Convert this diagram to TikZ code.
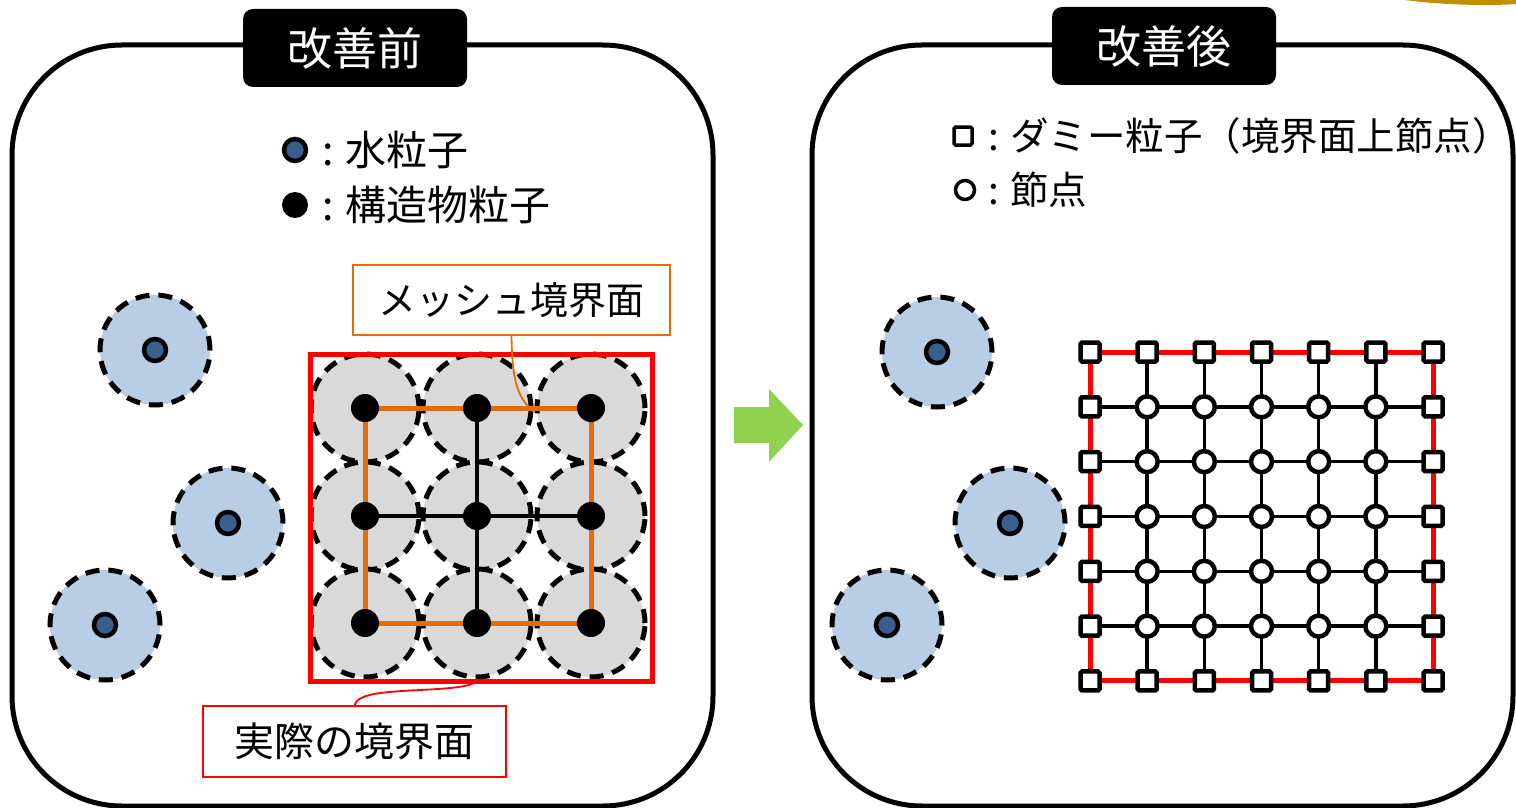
\documentclass[tikz,border=0pt]{standalone}
\usepackage{fontspec}
\setmainfont{Noto Sans CJK JP}
\usetikzlibrary{calc}
\definecolor{waterfill}{HTML}{B9CDE5}
\definecolor{waterdotc}{HTML}{3A5F8F}
\definecolor{structfill}{HTML}{D9D9D9}
\definecolor{meshorange}{HTML}{E46C0A}
\definecolor{arrowgreen}{HTML}{92D050}
\definecolor{goldc}{HTML}{C09000}
\begin{document}
\begin{tikzpicture}[x=1pt,y=-1pt,
  panel/.style={draw, line width=5pt, rounded corners=110pt},
  titlebox/.style={fill=black, text=white, rounded corners=10pt, minimum width=224pt, minimum height=78pt, inner sep=0pt, font=\fontsize{45}{50}\selectfont},
  water/.style={circle, draw, dash pattern=on 14pt off 9pt, line width=5pt, fill=waterfill, minimum size=110pt, inner sep=0pt},
  wdot/.style={circle, draw, line width=4.5pt, fill=waterdotc, minimum size=22pt, inner sep=0pt},
  structure/.style={circle, draw, dash pattern=on 14pt off 9pt, line width=5pt, fill=structfill, minimum size=108pt, inner sep=0pt},
  sdot/.style={circle, fill=black, minimum size=28pt, inner sep=0pt},
  legtext/.style={anchor=west, inner sep=0pt, font=\fontsize{41}{46}\selectfont},
  rlegtext/.style={anchor=west, inner sep=0pt, font=\fontsize{38.5}{44}\selectfont},
  callout/.style={fill=white, line width=1.8pt, minimum height=70pt, inner sep=0pt, font=\fontsize{38}{44}\selectfont},
  sq/.style={rectangle, draw, line width=4.5pt, fill=white, minimum size=19pt, inner sep=0pt, rounded corners=1.5pt},
  nd/.style={circle, draw, line width=4.5pt, fill=white, minimum size=21pt, inner sep=0pt},
  meshline/.style={meshorange, line width=5pt},
  innerline/.style={black, line width=3.5pt},
  redline/.style={red, line width=5pt},
]
\useasboundingbox (0,0) rectangle (1516,808);

% gold arc at top right
\fill[goldc] (1405,0) .. controls (1440,5) and (1490,6) .. (1516,4) -- (1516,0) -- cycle;

% panels
\draw[panel] (12,45) rectangle (713,806);
\draw[panel] (812,45) rectangle (1513,806);

% titles
\node[titlebox] (t1) at (355,48) {改善前};
\node[titlebox] (t2) at (1164,46) {改善後};

% left legend
\node[wdot] (lw) at (295,150) {};
\node[legtext] (lwt) at (322,150) {: 水粒子};
\node[sdot, minimum size=26pt] (ls) at (295,205) {};
\node[legtext] (lst) at (322,205) {: 構造物粒子};

% right legend
\node[sq, minimum size=18pt, line width=3.5pt] (rsq) at (963,136) {};
\node[rlegtext] (rsqt) at (988,136) {: ダミー粒子（境界面上節点）};
\node[nd, minimum size=19pt, line width=3.5pt] (rnd) at (965,190) {};
\node[rlegtext] (rndt) at (988,190) {: 節点};

% water particles left
\node[water] (wa1) at (155,350) {};
\node[water] (wa2) at (228,523) {};
\node[water] (wa3) at (105,625) {};
\node[wdot] at (wa1) {};
\node[wdot] at (wa2) {};
\node[wdot] at (wa3) {};

% water particles right
\node[water] (wb1) at (937,352) {};
\node[water] (wb2) at (1010,523) {};
\node[water] (wb3) at (887,625) {};
\node[wdot] at (wb1) {};
\node[wdot] at (wb2) {};
\node[wdot] at (wb3) {};

% structure particles
\foreach \i/\x in {1/365,2/477,3/591}{
  \foreach \j/\y in {1/408,2/516,3/623}{
    \node[structure] (sc-\i-\j) at (\x,\y) {};
  }
}
% red actual boundary
\draw[redline] (310,354) rectangle (652,681);
% inner black lines
\draw[innerline] (sc-2-1.center) -- (sc-2-3.center);
\draw[innerline] (sc-1-2.center) -- (sc-3-2.center);
% orange mesh
\draw[meshline] (sc-1-1.center) -- (sc-2-1.center) -- (sc-3-1.center) -- (sc-3-2.center) -- (sc-3-3.center) -- (sc-2-3.center) -- (sc-1-3.center) -- (sc-1-2.center) -- cycle;
% black dots
\foreach \i in {1,2,3}{
  \foreach \j in {1,2,3}{
    \node[sdot] (sd-\i-\j) at (sc-\i-\j) {};
  }
}

% callouts
\node[callout, draw=meshorange, minimum width=317pt] (mesh) at (511.5,300) {メッシュ境界面};
\coordinate (meshend) at (530,408);
\draw[meshorange, line width=1.8pt] (mesh.south) .. controls (512,375) and (516,395) .. (meshend);

\node[callout, draw=red, minimum width=303pt, minimum height=71pt, font=\fontsize{40}{46}\selectfont] (real) at (354.5,741.5) {実際の境界面};
\coordinate (realend) at (478,680);
\draw[red, line width=1.8pt] (real.north) .. controls (358,694) and (380,692) .. (420,690) .. controls (460,688) and (472,686) .. (realend);

% green arrow
\fill[arrowgreen] (734,407) -- (769,407) -- (769,389) -- (803,425) -- (769,462) -- (769,443) -- (734,443) -- cycle;

% right grid
\foreach \c in {1,...,7}{
  \foreach \r in {1,...,7}{
    \coordinate (p-\c-\r) at ({1090+(\c-1)*57.17},{352+(\r-1)*54.83});
  }
}
\foreach \k in {2,...,6}{
  \draw[innerline] (p-1-\k) -- (p-7-\k);
  \draw[innerline] (p-\k-1) -- (p-\k-7);
}
\draw[redline] (p-1-1) rectangle (p-7-7);
\foreach \c in {1,...,7}{
  \node[sq] (g-\c-1) at (p-\c-1) {};
  \node[sq] (g-\c-7) at (p-\c-7) {};
}
\foreach \r in {2,...,6}{
  \node[sq] (g-1-\r) at (p-1-\r) {};
  \node[sq] (g-7-\r) at (p-7-\r) {};
}
\foreach \c in {2,...,6}{
  \foreach \r in {2,...,6}{
    \node[nd] (g-\c-\r) at (p-\c-\r) {};
  }
}
\end{tikzpicture}
\end{document}
